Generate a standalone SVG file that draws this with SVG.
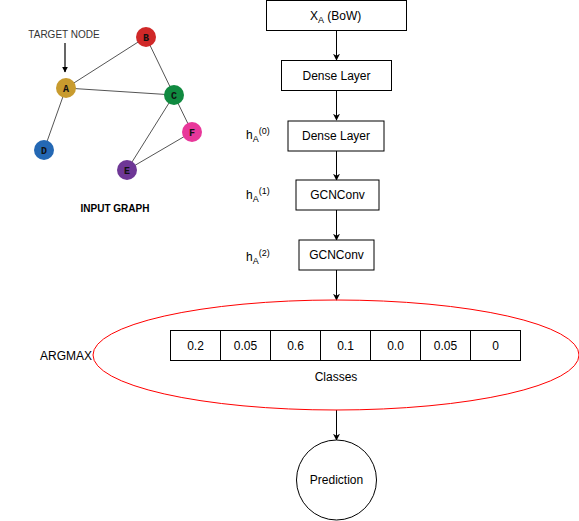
<svg xmlns="http://www.w3.org/2000/svg" width="579" height="521" viewBox="0 0 579 521">
<defs>
<marker id="arr" viewBox="0 0 10 10" refX="9" refY="5" markerWidth="7" markerHeight="7" markerUnits="userSpaceOnUse" orient="auto">
<path d="M0,0 L10,5 L0,10 L3,5 z" fill="#000"/>
</marker>
<marker id="arr2" viewBox="0 0 10 10" refX="9" refY="5" markerWidth="6" markerHeight="6" markerUnits="userSpaceOnUse" orient="auto">
<path d="M0,0 L10,5 L0,10 z" fill="#000"/>
</marker>
<style>
text{font-family:"Liberation Sans",Arial,sans-serif;fill:#000}
.box{fill:#fff;stroke:#000;stroke-width:1}
.lbl{font-size:12px;text-anchor:middle}
.edge{stroke:#555;stroke-width:1;fill:none}
.conn{stroke:#000;stroke-width:1;fill:none;marker-end:url(#arr)}
.nl{font-family:"Liberation Mono","Courier New",monospace;font-weight:bold;font-size:10px;text-anchor:middle;fill:#111}
.h{font-size:12px}
</style>
</defs>
<rect width="579" height="521" fill="#fff"/>

<g id="graph">
<g id="edges">
<line class="edge" x1="66" y1="88" x2="146" y2="37"/>
<line class="edge" x1="66" y1="88" x2="174" y2="95"/>
<line class="edge" x1="66" y1="88" x2="44" y2="150"/>
<line class="edge" x1="146" y1="37" x2="174" y2="95"/>
<line class="edge" x1="174" y1="95" x2="127" y2="170"/>
<line class="edge" x1="174" y1="95" x2="192" y2="132"/>
<line class="edge" x1="127" y1="170" x2="192" y2="132"/>
</g>
<g id="nodeA"><circle cx="66" cy="88" r="10" fill="#C89B2E"/><text class="nl" x="66" y="91.5">A</text></g>
<g id="nodeB"><circle cx="146" cy="37" r="10" fill="#D02828"/><text class="nl" x="146" y="40.5">B</text></g>
<g id="nodeC"><circle cx="174" cy="95" r="10" fill="#108A40"/><text class="nl" x="174" y="98.5">C</text></g>
<g id="nodeD"><circle cx="44" cy="150" r="10" fill="#2468B4"/><text class="nl" x="44" y="153.5">D</text></g>
<g id="nodeE"><circle cx="127" cy="170" r="10" fill="#6E3796"/><text class="nl" x="127" y="173.5">E</text></g>
<g id="nodeF"><circle cx="192" cy="132" r="10" fill="#E8379A"/><text class="nl" x="192" y="135.5">F</text></g>
<text x="64" y="38" font-size="10" text-anchor="middle" style="fill:#333">TARGET NODE</text>
<line x1="65" y1="43" x2="65" y2="72" stroke="#000" stroke-width="1.2" marker-end="url(#arr2)"/>
<text x="115" y="212" font-size="10" font-weight="bold" text-anchor="middle">INPUT GRAPH</text>
</g>

<g id="connectors">
<line class="conn" x1="336.5" y1="31" x2="336.5" y2="60"/>
<line class="conn" x1="336.5" y1="91" x2="336.5" y2="120"/>
<line class="conn" x1="336.5" y1="151" x2="336.5" y2="180"/>
<line class="conn" x1="336.5" y1="210" x2="336.5" y2="240"/>
<line class="conn" x1="336.5" y1="270" x2="336.5" y2="300"/>
<line class="conn" x1="336.5" y1="410" x2="336.5" y2="440"/>
</g>

<g id="xa">
<rect class="box" x="266.5" y="0.5" width="140" height="30"/>
<text class="h" x="310" y="20">X<tspan font-size="9" dy="3">A</tspan><tspan dy="-3"> (BoW)</tspan></text>
</g>
<g id="dense1">
<rect class="box" x="281.5" y="60.5" width="110" height="30"/>
<text class="lbl" x="336.5" y="80">Dense Layer</text>
</g>
<g id="dense2">
<rect class="box" x="288" y="121" width="96" height="30"/>
<text class="lbl" x="336" y="140">Dense Layer</text>
<text class="h" x="246" y="139">h<tspan font-size="9" dy="3">A</tspan><tspan font-size="9" dy="-8">(0)</tspan></text>
</g>
<g id="gcn1">
<rect class="box" x="296" y="180" width="83" height="30"/>
<text class="lbl" x="337.5" y="199">GCNConv</text>
<text class="h" x="246" y="199">h<tspan font-size="9" dy="3">A</tspan><tspan font-size="9" dy="-8">(1)</tspan></text>
</g>
<g id="gcn2">
<rect class="box" x="299" y="240" width="75" height="30"/>
<text class="lbl" x="336.5" y="259">GCNConv</text>
<text class="h" x="246" y="261">h<tspan font-size="9" dy="3">A</tspan><tspan font-size="9" dy="-8">(2)</tspan></text>
</g>

<g id="argmax">
<ellipse cx="336" cy="355" rx="243" ry="55" fill="none" stroke="#FF0000" stroke-width="1"/>
<text class="h" x="40" y="360">ARGMAX</text>
<g id="classes">
<rect class="box" x="170.5" y="330.5" width="50" height="30"/>
<rect class="box" x="220.5" y="330.5" width="50" height="30"/>
<rect class="box" x="270.5" y="330.5" width="50" height="30"/>
<rect class="box" x="320.5" y="330.5" width="50" height="30"/>
<rect class="box" x="370.5" y="330.5" width="50" height="30"/>
<rect class="box" x="420.5" y="330.5" width="50" height="30"/>
<rect class="box" x="470.5" y="330.5" width="50" height="30"/>
<text class="lbl" x="195.5" y="350">0.2</text>
<text class="lbl" x="245.5" y="350">0.05</text>
<text class="lbl" x="295.5" y="350">0.6</text>
<text class="lbl" x="345.5" y="350">0.1</text>
<text class="lbl" x="395.5" y="350">0.0</text>
<text class="lbl" x="445.5" y="350">0.05</text>
<text class="lbl" x="495.5" y="350">0</text>
<text class="lbl" x="336" y="381">Classes</text>
</g>
</g>

<g id="prediction">
<circle cx="336.5" cy="480" r="40" fill="#fff" stroke="#000" stroke-width="1"/>
<text class="lbl" x="336.5" y="484">Prediction</text>
</g>
</svg>
